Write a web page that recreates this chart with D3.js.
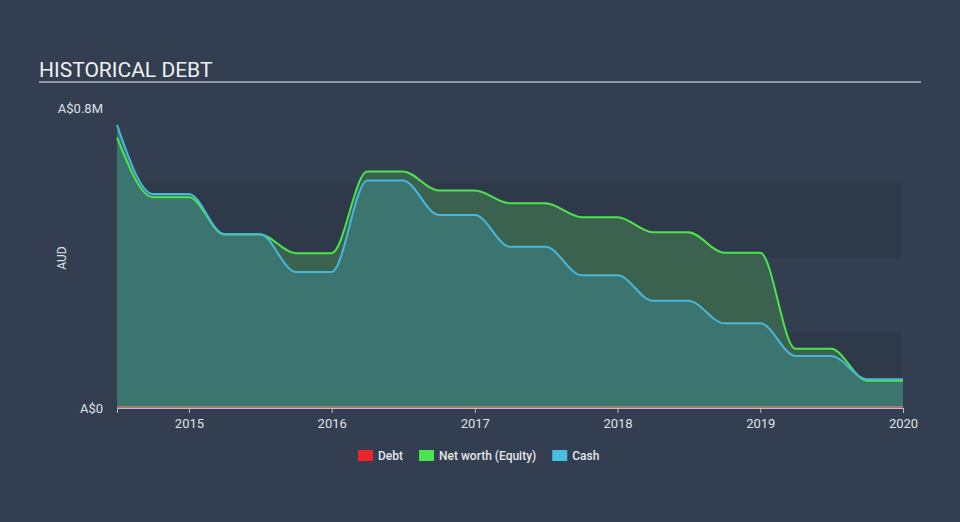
<!DOCTYPE html>
<html>
<head>
<meta charset="utf-8">
<script src="https://cdn.jsdelivr.net/npm/d3@7"></script>
<style>
  html, body { margin: 0; padding: 0; background: #333f50; }
  svg { display: block; font-family: Roboto, "Noto Sans", sans-serif; }
</style>
</head>
<body>
<svg id="chart" width="960" height="522"></svg>
<script>
// ---- data ----
const dates = ["2014-07-01","2014-10-01","2015-01-01","2015-04-01","2015-07-01","2015-10-01","2016-01-01",
  "2016-04-01","2016-07-01","2016-10-01","2017-01-01","2017-04-01","2017-07-01","2017-10-01","2018-01-01",
  "2018-04-01","2018-07-01","2018-10-01","2019-01-01","2019-04-01","2019-07-01","2019-10-01","2020-01-01"];
const debt   = [0,0,0,0,0,0,0,0,0,0,0,0,0,0,0,0,0,0,0,0,0,0,0];
const equity = [721000,562000,562000,463000,463000,413000,413000,631000,631000,580000,580000,546000,546000,
  509000,509000,469000,469000,414000,414000,158000,158000,73000,73000];
const cash   = [755000,571000,571000,464000,464000,363000,363000,607000,607000,515000,515000,430000,430000,
  354000,354000,286000,286000,226000,226000,139000,139000,77000,77000];
const yTickValues = [0, 800000];
const yTickLabels = ["A$0", "A$0.8M"];
const bandEdges = [0, 200000, 400000, 600000, 800000];
const legendItems = ["Debt", "Net worth (Equity)", "Cash"];
const legendColors = ["#e8262b", "#4de34e", "#49bee0"];

// ---- layout ----
const svg = d3.select("#chart");
const W = 960, H = 522;
const plotL = 117, plotR = 903, plotT = 108, plotB = 408;
const parse = d3.timeParse("%Y-%m-%d");
const rows = dates.map((d, i) => ({ date: parse(d), debt: debt[i], equity: equity[i], cash: cash[i] }));

const x = d3.scaleTime().domain([parse("2014-07-01"), parse("2020-01-01")]).range([plotL, plotR]);
const y = d3.scaleLinear().domain([0, 800000]).range([plotB, plotT]);

svg.append("rect").attr("width", W).attr("height", H).attr("fill", "#333f50");

// title
svg.append("text").attr("x", 39).attr("y", 77).attr("fill", "#eef0f2")
  .attr("font-size", 21).attr("font-weight", 400).text("HISTORICAL DEBT");
svg.append("line").attr("x1", 39).attr("x2", 921).attr("y1", 82).attr("y2", 82)
  .attr("stroke", "#b4b9c0").attr("stroke-width", 1.5);

// bands
for (let i = 0; i < bandEdges.length - 1; i++) {
  if (i % 2 === 0) {
    svg.append("rect").attr("x", plotL).attr("width", plotR - plotL - 1)
      .attr("y", y(bandEdges[i + 1])).attr("height", y(bandEdges[i]) - y(bandEdges[i + 1]))
      .attr("fill", "#2e3a4a");
  }
}

const curve = d3.curveMonotoneX;
const eqArea = d3.area().x(d => x(d.date)).y0(y(0)).y1(d => y(d.equity)).curve(curve);
const cashArea = d3.area().x(d => x(d.date)).y0(y(0)).y1(d => y(d.cash)).curve(curve);
svg.append("path").datum(rows).attr("d", eqArea).attr("fill", "#3a624f");
svg.append("path").datum(rows).attr("d", cashArea).attr("fill", "#3c746f");

const line = key => d3.line().x(d => x(d.date)).y(d => y(d[key])).curve(curve);
svg.append("path").datum(rows).attr("d", line("debt")).attr("fill", "none")
  .attr("stroke", "#d9745e").attr("stroke-width", 1.5).attr("transform", "translate(0,-1)");
svg.append("path").datum(rows).attr("d", line("equity")).attr("fill", "none")
  .attr("stroke", "#4de34e").attr("stroke-width", 2);
svg.append("path").datum(rows).attr("d", line("cash")).attr("fill", "none")
  .attr("stroke", "#49b6dc").attr("stroke-width", 2);

// x axis
const xAxis = svg.append("g").attr("transform", `translate(0,${plotB})`)
  .call(d3.axisBottom(x).ticks(d3.timeYear.every(1)).tickFormat(d3.timeFormat("%Y")).tickSizeOuter(0).tickSize(5));
xAxis.select(".domain").attr("stroke", "#b9c0cb").attr("stroke-width", 1);
xAxis.selectAll(".tick line").attr("stroke", "#b9c0cb");
xAxis.selectAll(".tick text").attr("fill", "#dde1e6").attr("font-size", 13)
  .attr("font-family", "Roboto, sans-serif").attr("dy", "0.95em");

// y axis
const yAxis = svg.append("g").attr("transform", `translate(${plotL - 14},0)`)
  .call(d3.axisLeft(y).tickValues(yTickValues).tickSize(0)
    .tickFormat((d, i) => yTickLabels[i]));
yAxis.select(".domain").remove();
yAxis.selectAll(".tick text").attr("fill", "#dde1e6").attr("font-size", 13)
  .attr("font-family", "Roboto, sans-serif").attr("x", 0);

svg.append("text").attr("transform", `translate(66,${(plotT + plotB) / 2}) rotate(-90)`)
  .attr("text-anchor", "middle").attr("fill", "#dde1e6").attr("font-size", 12).text("AUD");

// legend
let lx = 358;
const lg = svg.append("g");
legendItems.forEach((name, i) => {
  lg.append("rect").attr("x", lx).attr("y", 450).attr("width", 15).attr("height", 11).attr("fill", legendColors[i]);
  const t = lg.append("text").attr("x", lx + 20).attr("y", 460).attr("fill", "#e4e7eb")
    .attr("font-size", 12).attr("font-weight", 500).text(name);
  lx += 20 + t.node().getComputedTextLength() + 16;
});
</script>
</body>
</html>
